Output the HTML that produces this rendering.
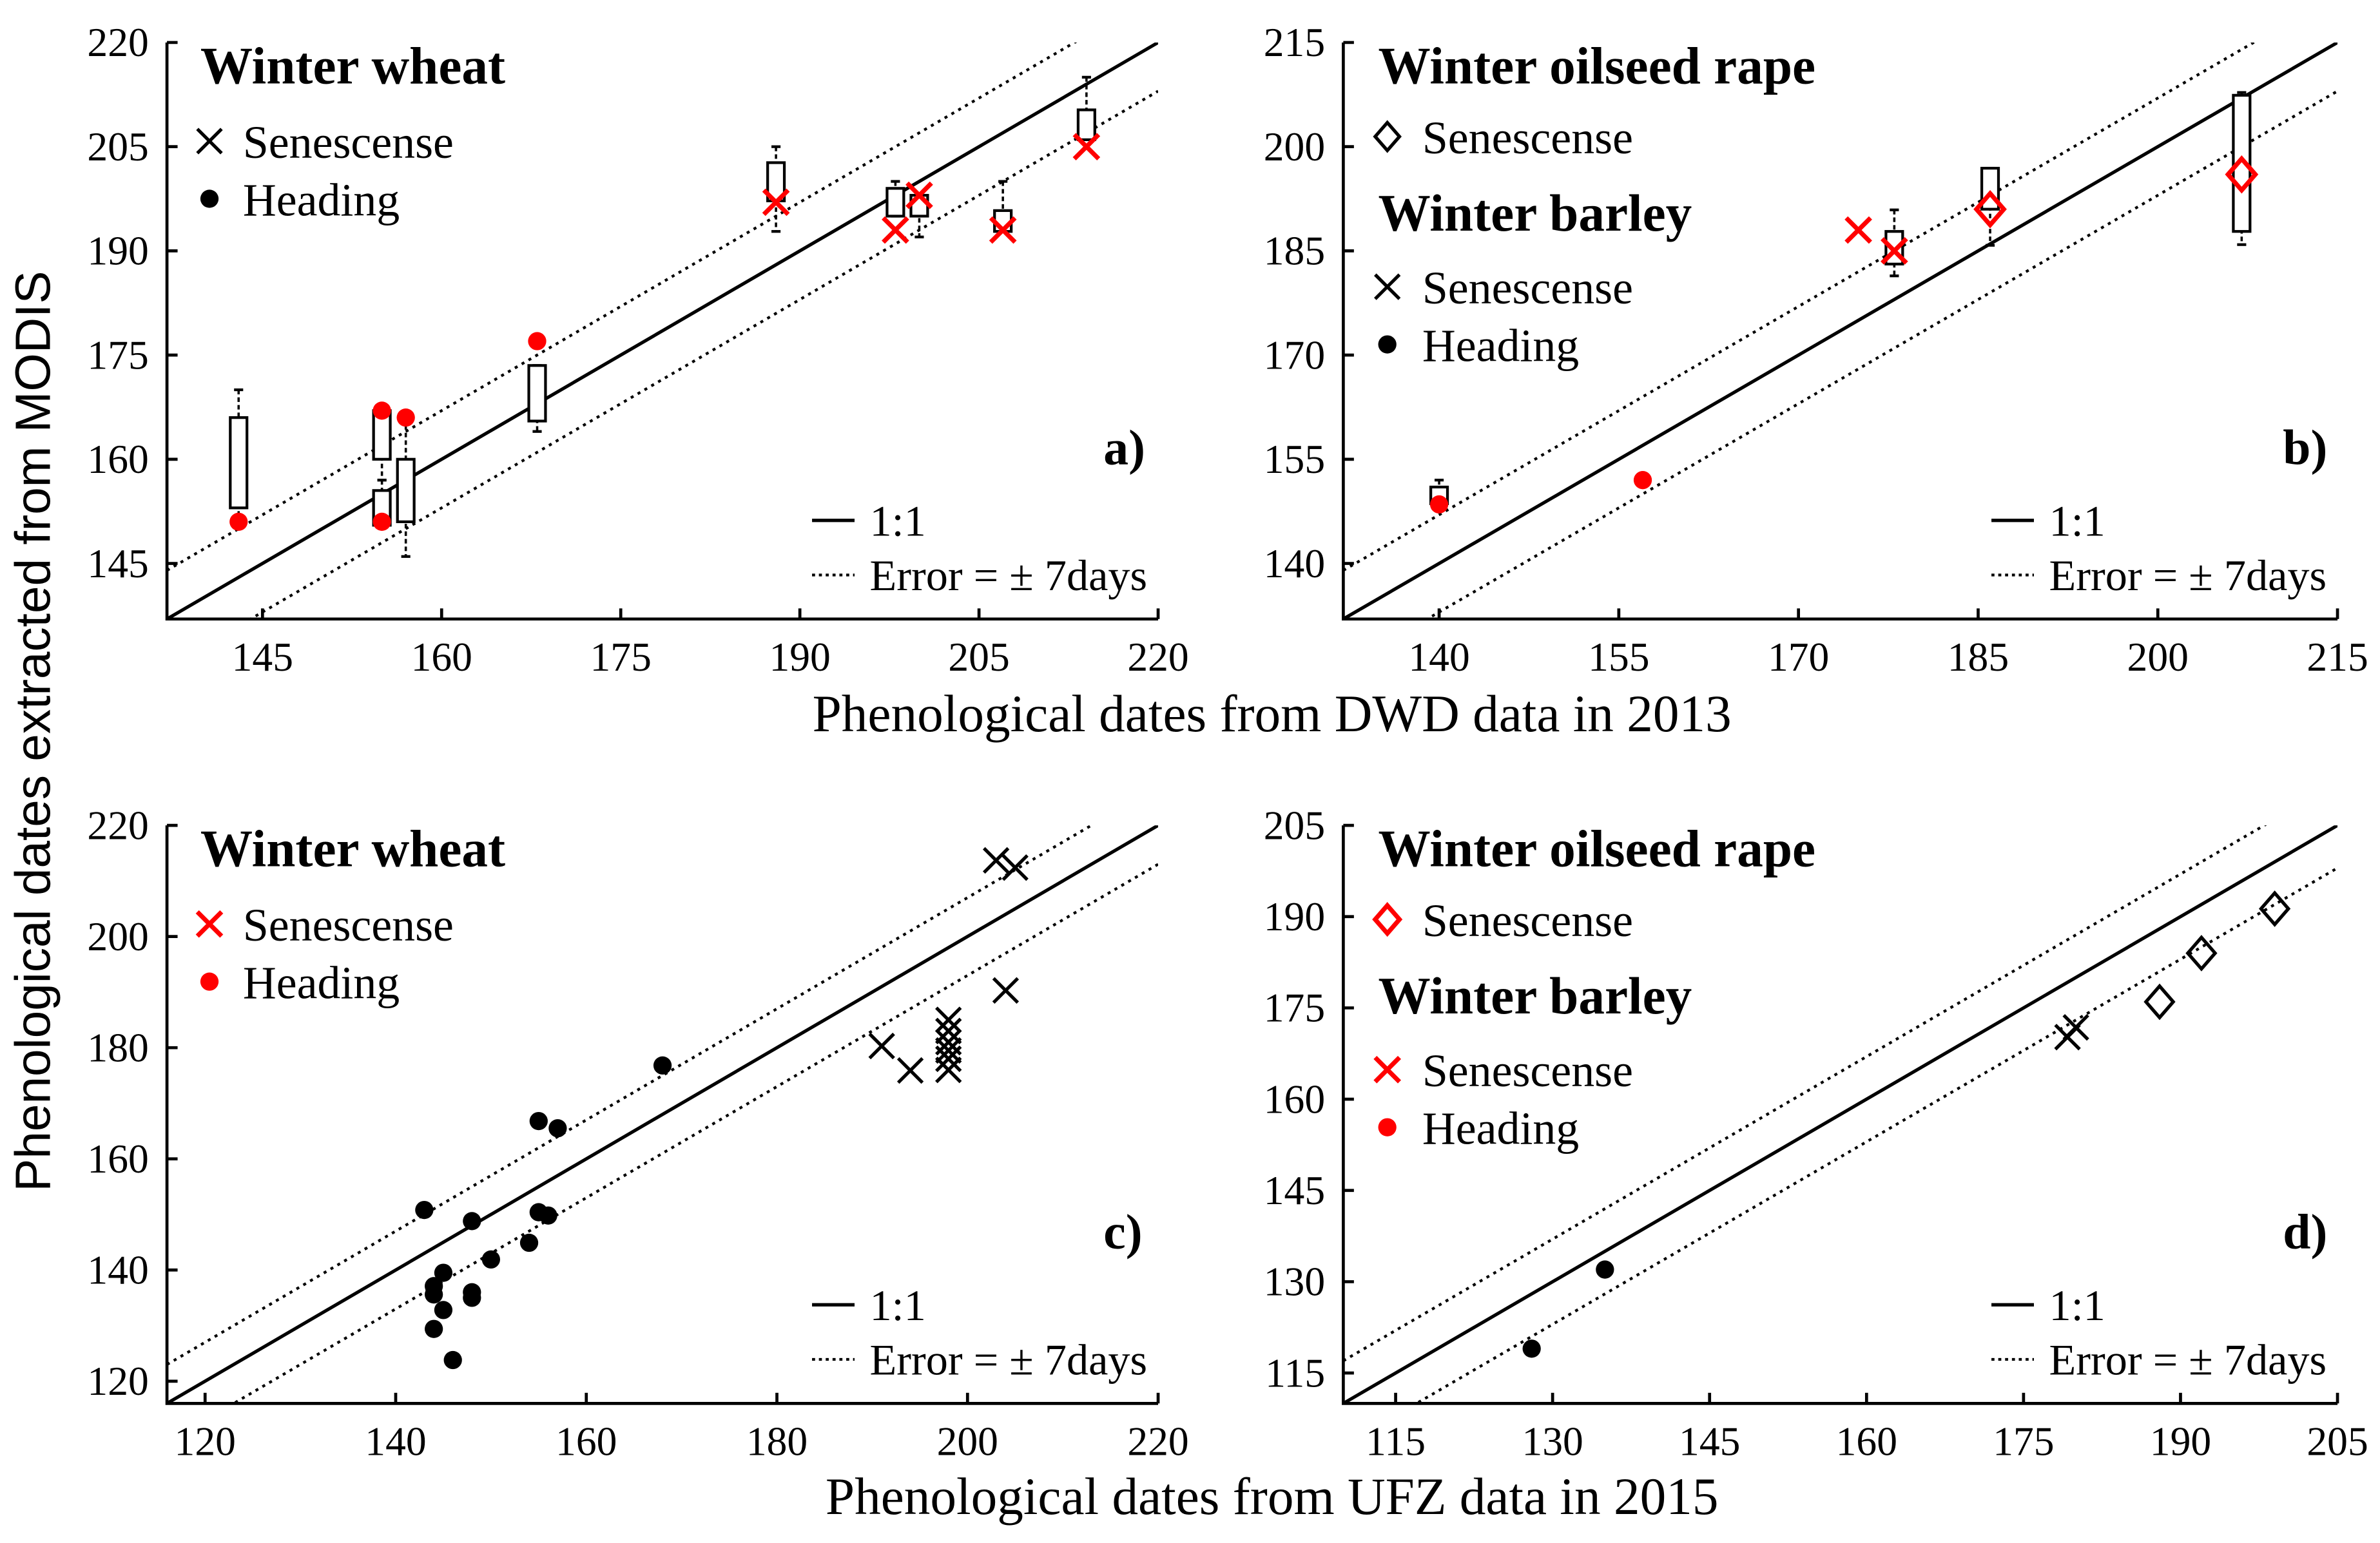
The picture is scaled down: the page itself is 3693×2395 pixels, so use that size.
<!DOCTYPE html>
<html><head><meta charset="utf-8"><style>
html,body{margin:0;padding:0;background:#fff;}
svg{display:block;}
text{font-family:"Liberation Serif",serif;fill:#000;}
</style></head><body>
<svg id="chart" xmlns="http://www.w3.org/2000/svg" width="3693" height="2395" viewBox="0 0 1568 1017" preserveAspectRatio="none">
<rect x="0" y="0" width="1568" height="1017" fill="#fff"/>
<text transform="translate(33,482) rotate(-90)" text-anchor="middle" style="font-family:'Liberation Sans',sans-serif;font-size:32.5px">Phenological dates extracted from MODIS</text>
<text x="838" y="482" text-anchor="middle" font-size="34.5">Phenological dates from DWD data in 2013</text>
<text x="838" y="998" text-anchor="middle" font-size="34.5">Phenological dates from UFZ data in 2015</text>
</svg>
<script>
// ---- Panel a data (2013 winter wheat) ----
const aHeadX = [143, 155, 155, 157, 168];
const aHeadY = [151, 167, 151, 166, 177];
const aSenX = [188, 198, 200, 207, 214];
const aSenY = [197, 193, 198, 193, 205];
const aBoxX = [143, 155, 155, 157, 168, 188, 198, 200, 207, 214];
const aBoxLo = [153, 160, 150.5, 151, 165.5, 197.2, 195, 195, 192.8, 206];
const aBoxHi = [166, 167, 155.5, 160, 173.5, 202.7, 199, 198, 195.8, 210.3];
const aWhLo = [151, 157, 150.5, 146, 164, 192.8, 195, 192, 192.8, 206];
const aWhHi = [170, 167, 157, 166, 173.5, 205, 200, 198, 200, 215];
// ---- Panel b data (2013 rape/barley) ----
const bHeadX = [140, 157];
const bHeadY = [148.5, 152];
const bSenX = [175, 178];
const bSenY = [188, 185];
const bDiaX = [186, 207];
const bDiaY = [191, 196];
const bBoxX = [140, 178, 186, 207];
const bBoxLo = [148.6, 183.1, 191, 187.8];
const bBoxHi = [151, 187.8, 196.9, 207.4];
const bWhLo = [148.6, 181.4, 185.8, 185.9];
const bWhHi = [152, 190.9, 196.9, 207.8];
// ---- Panel c data (2015 wheat) ----
const cHeadX = [143, 148, 155, 157, 168, 155, 156, 154, 150, 145, 144, 144, 148, 148, 145, 144, 146];
const cHeadY = [150.8, 148.8, 166.8, 165.5, 176.8, 150.4, 149.8, 144.9, 141.9, 139.5, 137.1, 135.6, 136, 135, 132.8, 129.4, 123.8];
const cSenX = [203, 205, 204, 191, 194, 198, 198, 198, 198, 198, 198];
const cSenY = [213.7, 212.4, 190.3, 180.3, 175.9, 185, 183, 181, 179.5, 178, 176];
// ---- Panel d data (2015 rape/barley) ----
const dHeadX = [128, 135];
const dHeadY = [119, 132];
const dSenX = [179.2, 180];
const dSenY = [170.2, 171.8];
const dDiaX = [188, 192, 199];
const dDiaY = [176, 184, 191.3];
// ---- axis ticks ----
const aTicks = [145, 160, 175, 190, 205, 220];
const bTicks = [140, 155, 170, 185, 200, 215];
const cTicks = [120, 140, 160, 180, 200, 220];
const dTicks = [115, 130, 145, 160, 175, 190, 205];

const NS = 'http://www.w3.org/2000/svg';
const svg = document.getElementById('chart');
function mk(tag, attrs, parent) {
  const e = document.createElementNS(NS, tag);
  for (const k in attrs) e.setAttribute(k, attrs[k]);
  (parent || svg).appendChild(e);
  return e;
}
function panel(name, px0, px1, py0, py1, dmin, dmax, ticks) {
  const g = mk('g', {});
  
  
  const sx = v => px0 + (v - dmin) / (dmax - dmin) * (px1 - px0);
  const sy = v => py1 - (v - dmin) / (dmax - dmin) * (py1 - py0);
  const clip = 'clip-' + name;
  const cp = mk('clipPath', {id: clip}, g);
  mk('rect', {x: px0, y: py0, width: px1 - px0, height: py1 - py0}, cp);
  const l1 = mk('line', {x1: sx(dmin), y1: sy(dmin), x2: sx(dmax), y2: sy(dmax), stroke: '#000', 'stroke-width': 2.2, 'clip-path': 'url(#' + clip + ')'}, g);
  
  
  for (const off of [7, -7]) {
    const l = mk('line', {x1: sx(dmin), y1: sy(dmin + off), x2: sx(dmax), y2: sy(dmax + off), stroke: '#000', 'stroke-width': 1.8, 'stroke-dasharray': '2 3.2', 'clip-path': 'url(#' + clip + ')'}, g);
    
    
  }
  const ax = mk('path', {d: `M${px0},${py0} L${px0},${py1} L${px1},${py1}`, fill: 'none', stroke: '#000', 'stroke-width': 2}, g);
  
  
  for (const t of ticks) {
    mk('line', {x1: sx(t), y1: py1, x2: sx(t), y2: py1 - 7, stroke: '#000', 'stroke-width': 2}, g);
    mk('line', {x1: px0, y1: sy(t), x2: px0 + 7, y2: sy(t), stroke: '#000', 'stroke-width': 2}, g);
    const xt = mk('text', {x: sx(t), y: py1 + 34, 'text-anchor': 'middle', 'font-size': 27}, g);
    xt.textContent = t;
    
    
    const yt = mk('text', {x: px0 - 12, y: sy(t) + 9, 'text-anchor': 'end', 'font-size': 27}, g);
    yt.textContent = t;
    
    
  }
  return {g, sx, sy, px0, px1, py0, py1};
}
function cross(g, x, y, color, s) {
  s = s || 8;
  const p = mk('path', {d: `M${x - s},${y - s} L${x + s},${y + s} M${x - s},${y + s} L${x + s},${y - s}`, stroke: color, 'stroke-width': color === '#000' ? 2.2 : 3, fill: 'none'}, g);
  
  
}
function dot(g, x, y, color) {
  const c = mk('circle', {cx: x, cy: y, r: 6, fill: color}, g);
  
  
}
function diamond(g, x, y, color, s) {
  s = s || 9;
  const p = mk('path', {d: `M${x},${y - s * 1.15} L${x + s},${y} L${x},${y + s * 1.15} L${x - s},${y} Z`, fill: 'none', stroke: color, 'stroke-width': color === '#000' ? 2.2 : 3}, g);
  
  
}
function boxes(P, X, lo, hi, wl, wh) {
  for (let i = 0; i < X.length; i++) {
    const x = P.sx(X[i]);
    const wg = mk('g', {}, P.g);
    
    
    mk('line', {x1: x, y1: P.sy(wh[i]), x2: x, y2: P.sy(wl[i]), stroke: '#000', 'stroke-width': 1.5, 'stroke-dasharray': '3 2'}, wg);
    mk('line', {x1: x - 3, y1: P.sy(wh[i]), x2: x + 3, y2: P.sy(wh[i]), stroke: '#000', 'stroke-width': 1.8}, wg);
    mk('line', {x1: x - 3, y1: P.sy(wl[i]), x2: x + 3, y2: P.sy(wl[i]), stroke: '#000', 'stroke-width': 1.8}, wg);
    mk('rect', {x: x - 5.5, y: P.sy(hi[i]), width: 11, height: P.sy(lo[i]) - P.sy(hi[i]), fill: '#fff', stroke: '#000', 'stroke-width': 1.8}, wg);
  }
}
function txt(g, x, y, s, size, bold, name) {
  const t = mk('text', {x: x, y: y, 'font-size': size}, g);
  if (bold) t.setAttribute('font-weight', 'bold');
  t.textContent = s;
  
  
  return t;
}
function lineLegend(P, letter) {
  const g = P.g, r = P.px1, b = P.py1;
  txt(g, r - 36, b - 102, letter, 33, true, 'panel-label');
  mk('line', {x1: r - 228, y1: b - 65, x2: r - 200, y2: b - 65, stroke: '#000', 'stroke-width': 2.2}, g);
  txt(g, r - 190, b - 55, '1:1', 29, false, 'legend-one-to-one');
  mk('line', {x1: r - 228, y1: b - 29, x2: r - 200, y2: b - 29, stroke: '#000', 'stroke-width': 1.8, 'stroke-dasharray': '2 2.5'}, g);
  txt(g, r - 190, b - 19, 'Error = \u00b1 7days', 29, false, 'legend-error');
}
const TS = 34.5, LS = 30.5;

// Panel a
const A = panel('panel-a', 110, 763, 28, 408, 137, 220, aTicks);
boxes(A, aBoxX, aBoxLo, aBoxHi, aWhLo, aWhHi);
aHeadX.forEach((v, i) => dot(A.g, A.sx(v), A.sy(aHeadY[i]), '#f00'));
aSenX.forEach((v, i) => cross(A.g, A.sx(v), A.sy(aSenY[i]), '#f00'));
txt(A.g, 132, 55, 'Winter wheat', TS, true, 'legend-title-wheat');
cross(A.g, 138, 93, '#000', 8); txt(A.g, 160, 104, 'Senescense', LS, false, 'legend-senescence');
dot(A.g, 138, 131, '#000'); txt(A.g, 160, 142, 'Heading', LS, false, 'legend-heading');
lineLegend(A, 'a)');

// Panel b
const B = panel('panel-b', 885, 1540, 28, 408, 132, 215, bTicks);
boxes(B, bBoxX, bBoxLo, bBoxHi, bWhLo, bWhHi);
bHeadX.forEach((v, i) => dot(B.g, B.sx(v), B.sy(bHeadY[i]), '#f00'));
bSenX.forEach((v, i) => cross(B.g, B.sx(v), B.sy(bSenY[i]), '#f00'));
bDiaX.forEach((v, i) => diamond(B.g, B.sx(v), B.sy(bDiaY[i]), '#f00'));
txt(B.g, 908, 55, 'Winter oilseed rape', TS, true, 'legend-title-rape');
diamond(B.g, 914, 90, '#000', 8); txt(B.g, 937, 101, 'Senescense', LS, false, 'legend-rape-senescence');
txt(B.g, 908, 152, 'Winter barley', TS, true, 'legend-title-barley');
cross(B.g, 914, 189, '#000', 8); txt(B.g, 937, 200, 'Senescense', LS, false, 'legend-senescence');
dot(B.g, 914, 227, '#000'); txt(B.g, 937, 238, 'Heading', LS, false, 'legend-heading');
lineLegend(B, 'b)');

// Panel c
const C = panel('panel-c', 110, 763, 544, 925, 116, 220, cTicks);
cHeadX.forEach((v, i) => dot(C.g, C.sx(v), C.sy(cHeadY[i]), '#000'));
cSenX.forEach((v, i) => cross(C.g, C.sx(v), C.sy(cSenY[i]), '#000'));
txt(C.g, 132, 571, 'Winter wheat', TS, true, 'legend-title-wheat');
cross(C.g, 138, 609, '#f00', 8); txt(C.g, 160, 620, 'Senescense', LS, false, 'legend-senescence');
dot(C.g, 138, 647, '#f00'); txt(C.g, 160, 658, 'Heading', LS, false, 'legend-heading');
lineLegend(C, 'c)');

// Panel d
const D = panel('panel-d', 885, 1540, 544, 925, 110, 205, dTicks);
dHeadX.forEach((v, i) => dot(D.g, D.sx(v), D.sy(dHeadY[i]), '#000'));
dSenX.forEach((v, i) => cross(D.g, D.sx(v), D.sy(dSenY[i]), '#000'));
dDiaX.forEach((v, i) => diamond(D.g, D.sx(v), D.sy(dDiaY[i]), '#000'));
txt(D.g, 908, 571, 'Winter oilseed rape', TS, true, 'legend-title-rape');
diamond(D.g, 914, 606, '#f00', 8); txt(D.g, 937, 617, 'Senescense', LS, false, 'legend-rape-senescence');
txt(D.g, 908, 668, 'Winter barley', TS, true, 'legend-title-barley');
cross(D.g, 914, 705, '#f00', 8); txt(D.g, 937, 716, 'Senescense', LS, false, 'legend-senescence');
dot(D.g, 914, 743, '#f00'); txt(D.g, 937, 754, 'Heading', LS, false, 'legend-heading');
lineLegend(D, 'd)');
</script>
</body></html>
